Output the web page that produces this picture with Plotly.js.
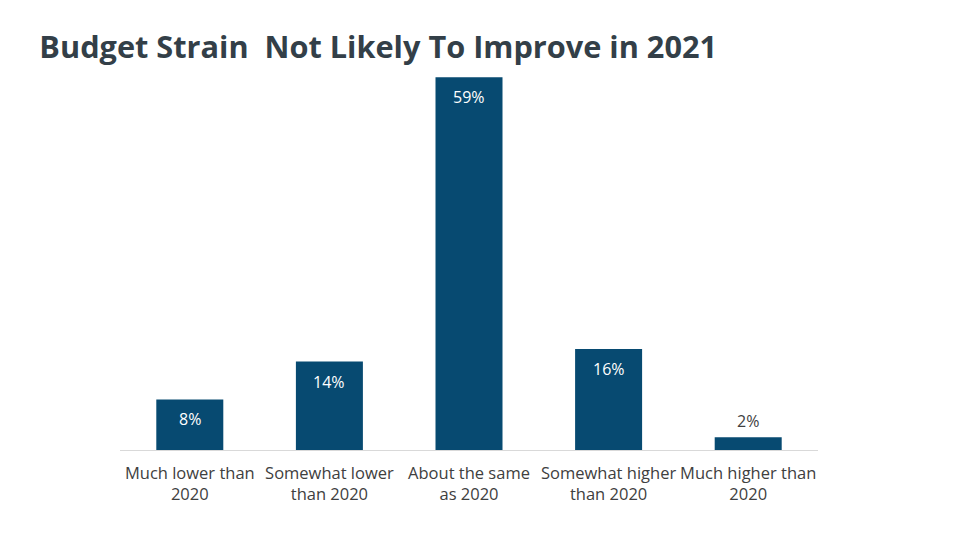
<!DOCTYPE html>
<html>
<head>
<meta charset="utf-8">
<script src="https://cdn.plot.ly/plotly-3.0.1.min.js"></script>
<style>html,body{margin:0;padding:0;background:#fff;}#chart{width:960px;height:540px;}</style>
</head>
<body>
<div id="chart"></div>
<script>
const categories = ["Much lower than<br>2020", "Somewhat lower<br>than 2020", "About the same<br>as 2020", "Somewhat higher<br>than 2020", "Much higher than<br>2020"];
const values = [8, 14, 59, 16, 2];
const labels = ["8%", "14%", "59%", "16%", "2%"];

const barColor = "#074a71";
const annotations = values.map((v, i) => {
  const inside = v > 5;
  return {
    x: categories[i], y: v, xref: "x", yref: "y",
    text: labels[i], showarrow: false,
    yanchor: inside ? "top" : "bottom",
    yshift: inside ? -7 : 3,
    font: {family: "Open Sans, sans-serif", size: 16, color: inside ? "#ffffff" : "#404040"}
  };
});

const trace = {
  type: "bar", x: categories, y: values,
  marker: {color: barColor}, width: 0.48, hoverinfo: "none"
};

const layout = {
  width: 960, height: 540,
  margin: {l: 120, r: 142, t: 71, b: 90},
  paper_bgcolor: "#fff", plot_bgcolor: "#fff",
  showlegend: false,
  title: {text: "<b>Budget Strain  Not Likely To Improve in 2021</b>", x: 0.041, xanchor: "left", y: 0.913, yanchor: "middle",
    font: {family: "Open Sans, sans-serif", size: 30.7, color: "#333f48"}},
  xaxis: {showline: true, linecolor: "#d9d9d9", linewidth: 1, ticks: "", showgrid: false, zeroline: false,
    ticklabelstandoff: 8,
    tickfont: {family: "Open Sans, sans-serif", size: 16.5, color: "#404040"}},
  yaxis: {range: [0, 60], visible: false, showgrid: false, zeroline: false},
  annotations: annotations,
  font: {family: "Open Sans, sans-serif"}
};

Plotly.newPlot("chart", [trace], layout, {staticPlot: true, displayModeBar: false});
</script>
</body>
</html>
